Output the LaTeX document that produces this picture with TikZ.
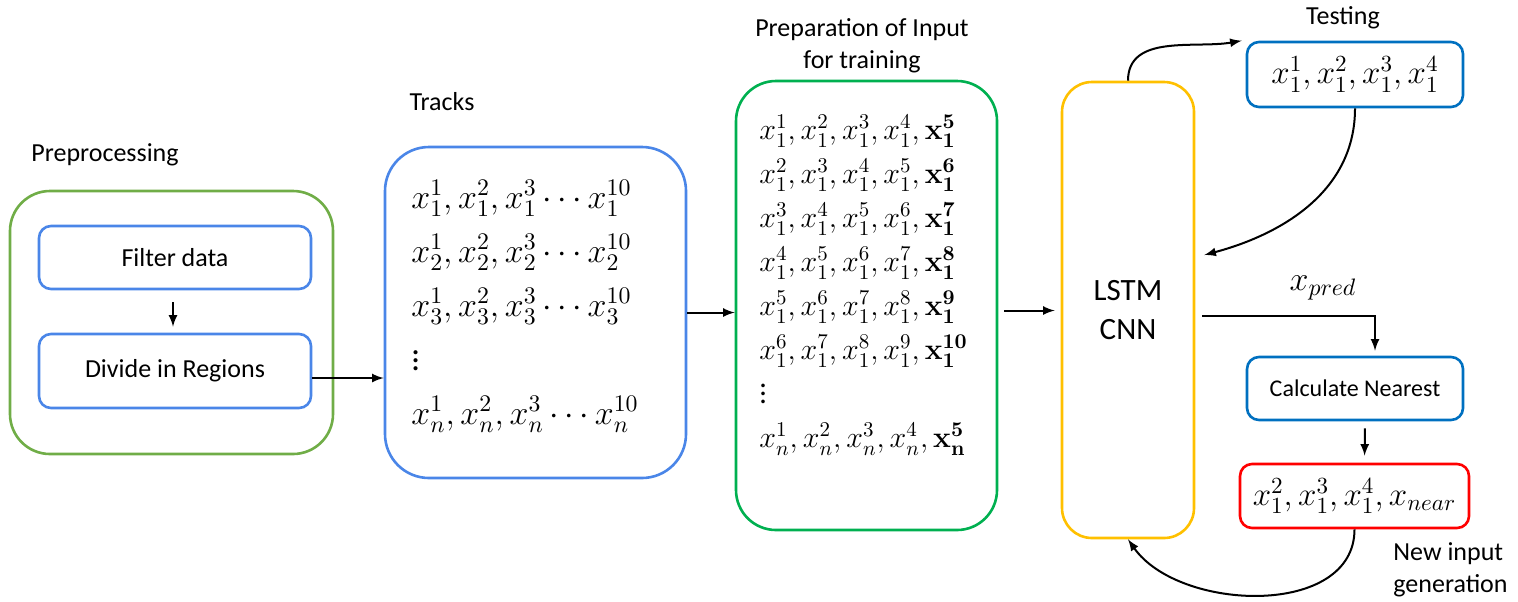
\RequirePackage{fix-cm}
\documentclass[tikz,border=0pt]{standalone}
\usepackage{amsmath}
\usepackage[no-math]{fontspec}
\setmainfont{Carlito}
\usetikzlibrary{arrows,calc,positioning}

\definecolor{pregreen}{RGB}{112,173,71}
\definecolor{trblue}{RGB}{74,134,232}
\definecolor{prepgreen}{RGB}{0,176,80}
\definecolor{lstmyellow}{RGB}{255,192,0}
\definecolor{testblue}{RGB}{0,112,192}

\begin{document}
\begin{tikzpicture}[x=0.5pt,y=-0.5pt,
    box/.style={draw=#1,line width=1.3pt},
    arr/.style={-latex,line width=1pt},
    lbl/.style={font=\fontsize{13}{16}\selectfont,inner sep=0pt},
    rows/.style={align=left,inner sep=0pt,anchor=north west}]
  \useasboundingbox (0,0) rectangle (1518,601);

  % preprocessing
  \node[lbl] (prelabel) at (105,155) {Preprocessing};
  \node[box=pregreen,rounded corners=20pt,minimum width=161.5pt,minimum height=131.5pt] (pre) at (171.5,322.5) {};
  \node[box=trblue,rounded corners=6pt,minimum width=136pt,minimum height=31.5pt,lbl] (filter) at (175,257.5) {Filter data};
  \node[box=trblue,rounded corners=6pt,minimum width=136pt,minimum height=37pt,lbl] (divide) at (175,371) {Divide in Regions};
  \draw[arr,shorten <=6pt,shorten >=3pt] ([xshift=-1pt]filter.south) -- ([xshift=-1pt]divide.north);

  % tracks
  \node[lbl] (trlabel) at (442,102) {Tracks};
  \node[box=trblue,rounded corners=22pt,minimum width=150.5pt,minimum height=165.5pt] (tracks) at (535.5,312.5) {};
  \node[rows,font=\fontsize{17}{27}\selectfont] (trrows) at (411,180) {%
    $x_1^1, x_1^2, x_1^3 \cdots x_1^{10}$\\
    $x_2^1, x_2^2, x_2^3 \cdots x_2^{10}$\\
    $x_3^1, x_3^2, x_3^3 \cdots x_3^{10}$\\
    $\vdots$\\
    $x_n^1, x_n^2, x_n^3 \cdots x_n^{10}$};
  \draw[arr] ([yshift=-3.5pt]divide.east) -- ([yshift=-3.5pt]divide.east -| tracks.west);

  % training input
  \node[lbl,align=center] (preplabel) at (862,46) {Preparation of Input\\for training};
  \node[box=prepgreen,rounded corners=20pt,minimum width=130.5pt,minimum height=224.5pt] (prep) at (866.5,305.5) {};
  \node[rows,font=\fontsize{15}{22}\selectfont] (preprows) at (759,115) {%
    $x_1^1, x_1^2, x_1^3, x_1^4, \mathbf{x_1^5}$\\
    $x_1^2, x_1^3, x_1^4, x_1^5, \mathbf{x_1^6}$\\
    $x_1^3, x_1^4, x_1^5, x_1^6, \mathbf{x_1^7}$\\
    $x_1^4, x_1^5, x_1^6, x_1^7, \mathbf{x_1^8}$\\
    $x_1^5, x_1^6, x_1^7, x_1^8, \mathbf{x_1^9}$\\
    $x_1^6, x_1^7, x_1^8, x_1^9, \mathbf{x_1^{10}}$\\
    $\vdots$\\
    $x_n^1, x_n^2, x_n^3, x_n^4, \mathbf{x_n^5}$};
  \draw[arr] (tracks.east) -- (tracks.east -| prep.west);

  % network
  \node[box=lstmyellow,rounded corners=15pt,minimum width=66pt,minimum height=228pt,align=center,font=\fontsize{15.5}{19.5}\selectfont] (lstm) at (1128,310) {LSTM\\CNN};
  \draw[arr,shorten <=3pt,shorten >=3pt] ([yshift=-2.5pt]prep.east) -- ([yshift=-2.5pt]prep.east -| lstm.west);

  % testing loop
  \node[lbl] (testlabel) at (1343,18) {Testing};
  \node[box=testblue,rounded corners=6pt,minimum width=108pt,minimum height=32.5pt,font=\fontsize{16.5}{20}\selectfont] (testing) at (1355,74.5) {$x_1^1, x_1^2, x_1^3, x_1^4$};
  \node[font=\fontsize{17}{20}\selectfont] (pred) at (1323,288) {$x_{pred}$};
  \node[box=testblue,rounded corners=6pt,minimum width=108pt,minimum height=31.5pt,font=\fontsize{12}{14}\selectfont] (calc) at (1355,388.5) {Calculate Nearest};
  \node[box=red,rounded corners=6pt,minimum width=114.5pt,minimum height=32pt,font=\fontsize{16.5}{20}\selectfont] (near) at (1354.5,496) {$x_1^2, x_1^3, x_1^4, x_{near}$};
  \node[lbl,align=left,anchor=west] (newlabel) at (1393,570) {New input\\generation};

  \draw[arr] (lstm.north) to[out=90,in=190] ([xshift=-2pt]testing.north west);
  \draw[arr] (testing.south) to[out=-90,in=15] ([shift={(4.5pt,27.5pt)}]lstm.east);
  \draw[arr] ([shift={(3.5pt,-3pt)}]lstm.east) -| ([shift={(10pt,2.5pt)}]calc.north);
  \draw[arr,shorten <=3.5pt,shorten >=3.5pt] ([xshift=5pt]calc.south) -- ([xshift=5pt]near.north);
  \draw[arr] (near.south) to[out=-90,in=-55] (lstm.south);
\end{tikzpicture}
\end{document}
